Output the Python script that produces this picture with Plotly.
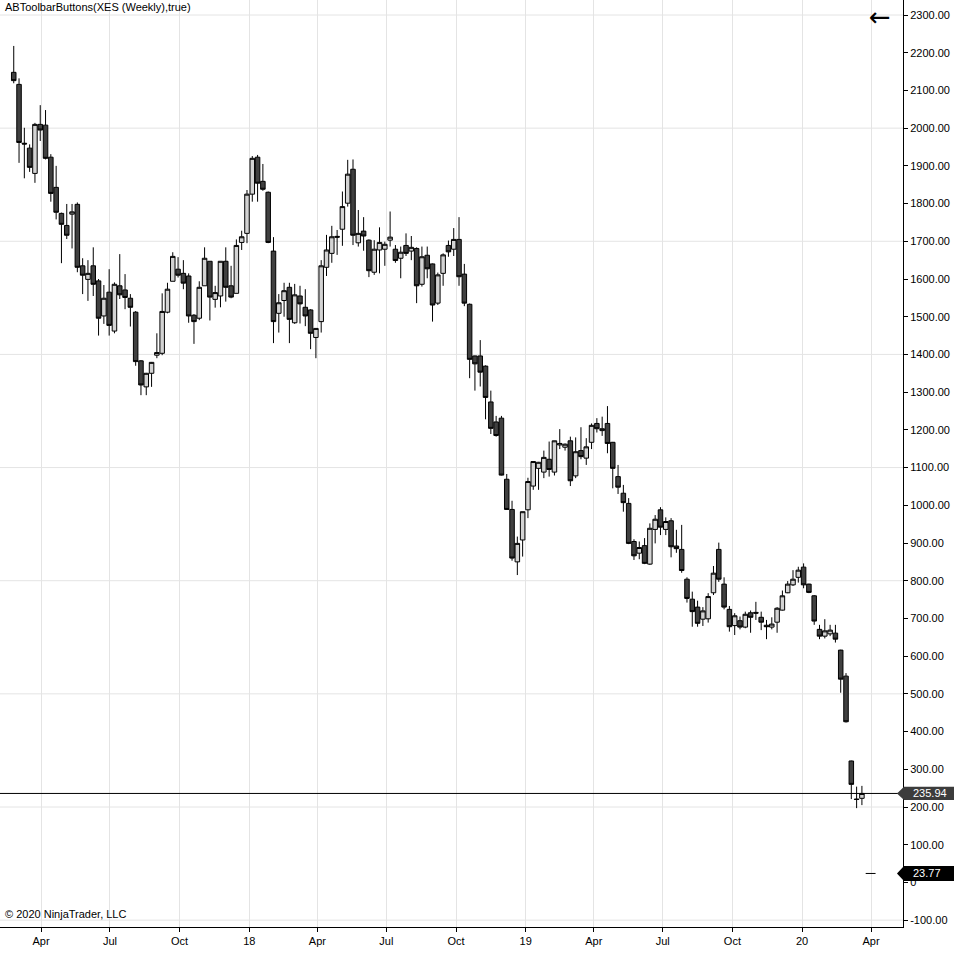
import pandas as pd
import plotly.graph_objects as go

# ---------------- data (weekly XES candles) ----------------
first_week = "2017-02-24"
n_weeks = 161
dates = pd.date_range(first_week, periods=n_weeks, freq="7D")

opens = [2148, 2116, 1960, 1947, 1880, 2010, 2008, 1923, 1843, 1774,
         1742, 1772, 1798, 1635, 1599, 1635, 1595, 1502, 1565, 1462,
         1582, 1571, 1549, 1512, 1383, 1314, 1350, 1398, 1403, 1512,
         1594, 1626, 1615, 1608, 1504, 1496, 1582, 1647, 1546, 1555,
         1647, 1582, 1562, 1697, 1721, 1825, 1923, 1859, 1830, 1674,
         1509, 1543, 1578, 1484, 1555, 1525, 1518, 1445, 1487, 1631,
         1668, 1713, 1732, 1801, 1891, 1696, 1727, 1703, 1618, 1677,
         1679, 1703, 1679, 1655, 1689, 1674, 1681, 1586, 1663, 1640,
         1536, 1615, 1689, 1679, 1705, 1613, 1533, 1396, 1396, 1369,
         1274, 1221, 1231, 1069, 989, 850, 908, 988, 1051, 1098,
         1088, 1122, 1088, 1160, 1154, 1171, 1078, 1145, 1125, 1167,
         1217, 1198, 1217, 1167, 1076, 1032, 1005, 904, 873, 893,
         844, 936, 988, 936, 959, 892, 883, 804, 751, 730,
         698, 699, 768, 883, 791, 724, 681, 694, 677, 715,
         716, 703, 682, 677, 690, 722, 768, 789, 809, 836,
         791, 760, 671, 653, 659, 661, 616, 547, 322, 221,
         223]

highs = [2218, 2132, 2001, 1957, 2014, 2061, 2048, 1931, 1900, 1776,
         1799, 1799, 1803, 1655, 1650, 1684, 1600, 1584, 1626, 1591,
         1666, 1613, 1560, 1515, 1385, 1351, 1380, 1456, 1562, 1590,
         1671, 1658, 1650, 1615, 1507, 1594, 1684, 1647, 1582, 1647,
         1684, 1635, 1705, 1728, 1836, 1926, 1929, 1905, 1832, 1711,
         1560, 1590, 1590, 1587, 1582, 1573, 1520, 1470, 1650, 1717,
         1741, 1730, 1832, 1916, 1917, 1783, 1764, 1705, 1703, 1737,
         1699, 1779, 1690, 1686, 1721, 1714, 1684, 1686, 1686, 1641,
         1617, 1668, 1702, 1735, 1764, 1640, 1535, 1397, 1438, 1371,
         1304, 1237, 1237, 1083, 1012, 917, 983, 1073, 1116, 1115,
         1145, 1169, 1171, 1202, 1164, 1182, 1180, 1207, 1178, 1217,
         1231, 1235, 1263, 1168, 1107, 1054, 1019, 910, 904, 913,
         952, 974, 995, 968, 966, 935, 948, 809, 771, 747,
         730, 767, 839, 901, 809, 733, 714, 705, 718, 721,
         744, 718, 696, 703, 730, 774, 799, 828, 837, 846,
         792, 762, 683, 698, 683, 683, 617, 555, 323, 254,
         256]

lows = [2119, 1908, 1867, 1884, 1855, 1966, 1917, 1805, 1758, 1642,
        1706, 1681, 1618, 1560, 1542, 1555, 1450, 1481, 1450, 1456,
        1547, 1520, 1474, 1370, 1292, 1292, 1314, 1390, 1398, 1509,
        1594, 1604, 1573, 1484, 1428, 1491, 1582, 1490, 1524, 1525,
        1540, 1549, 1562, 1677, 1695, 1805, 1805, 1834, 1695, 1430,
        1458, 1500, 1430, 1481, 1482, 1475, 1414, 1390, 1458, 1608,
        1643, 1664, 1688, 1792, 1690, 1686, 1675, 1605, 1611, 1615,
        1635, 1686, 1643, 1602, 1661, 1650, 1536, 1580, 1602, 1487,
        1531, 1582, 1659, 1661, 1582, 1528, 1337, 1304, 1315, 1228,
        1189, 1182, 1079, 988, 853, 815, 864, 966, 1041, 1041,
        1072, 1076, 1079, 1149, 1145, 1051, 1072, 1122, 1107, 1149,
        1193, 1184, 1138, 1045, 1030, 983, 897, 855, 857, 844,
        842, 899, 921, 921, 862, 874, 821, 742, 678, 678,
        680, 689, 762, 797, 724, 665, 656, 671, 674, 662,
        696, 669, 645, 671, 662, 721, 767, 786, 795, 780,
        767, 683, 645, 647, 653, 636, 503, 424, 221, 197,
        205]

closes = [2126, 1962, 1958, 1896, 2010, 1995, 1920, 1827, 1777, 1745,
          1716, 1778, 1631, 1610, 1615, 1586, 1496, 1549, 1477, 1586,
          1558, 1551, 1525, 1381, 1319, 1350, 1379, 1405, 1514, 1573,
          1660, 1610, 1589, 1502, 1487, 1578, 1655, 1552, 1564, 1647,
          1578, 1552, 1689, 1712, 1825, 1920, 1854, 1838, 1697, 1487,
          1537, 1569, 1493, 1558, 1534, 1502, 1456, 1469, 1635, 1677,
          1712, 1711, 1792, 1878, 1716, 1721, 1714, 1622, 1679, 1697,
          1692, 1711, 1649, 1671, 1668, 1684, 1582, 1659, 1627, 1531,
          1611, 1664, 1672, 1705, 1606, 1536, 1387, 1375, 1353, 1286,
          1204, 1185, 1080, 989, 860, 899, 983, 1063, 1116, 1114,
          1127, 1095, 1171, 1164, 1162, 1065, 1142, 1129, 1155, 1212,
          1203, 1203, 1164, 1098, 1048, 1007, 899, 866, 888, 846,
          939, 963, 942, 957, 890, 885, 827, 753, 718, 687,
          720, 758, 820, 804, 730, 678, 707, 677, 711, 703,
          714, 690, 678, 685, 727, 760, 791, 804, 828, 789,
          769, 693, 653, 667, 669, 645, 539, 426, 260, 220,
          235.94]

last_price = 235.94
indicator_value = 23.77
indicator_dates = ["2020-03-25", "2020-04-07"]

x_tick_dates = ["2017-04-01", "2017-07-01", "2017-10-01", "2018-01-01",
                "2018-04-01", "2018-07-01", "2018-10-01", "2019-01-01",
                "2019-04-01", "2019-07-01", "2019-10-01", "2020-01-01",
                "2020-04-01"]
x_tick_text = ["Apr", "Jul", "Oct", "18", "Apr", "Jul", "Oct", "19",
               "Apr", "Jul", "Oct", "20", "Apr"]

y_tick_vals = [2300, 2200, 2100, 2000, 1900, 1800, 1700, 1600, 1500, 1400,
               1300, 1200, 1100, 1000, 900, 800, 700, 600, 500, 400, 300,
               200, 100, 0, -100]
y_tick_text = [("0" if v == 0 else f"{v:.2f}") for v in y_tick_vals]
y_grid_vals = [2300, 2000, 1700, 1400, 1100, 800, 500, 200, -100]

# ---------------- figure ----------------
FONT = "Liberation Sans, Arial, sans-serif"
GRID = "#e4e4e4"
PLOT_W = 903.0  # plot area width in px (used for paper coords of outside items)

fig = go.Figure()

fig.add_trace(go.Candlestick(
    x=dates, open=opens, high=highs, low=lows, close=closes,
    increasing=dict(line=dict(color="#000000", width=1), fillcolor="#d3d3d3"),
    decreasing=dict(line=dict(color="#000000", width=1), fillcolor="#404040"),
    whiskerwidth=0, hoverinfo="skip", showlegend=False,
))

fig.add_trace(go.Scatter(
    x=indicator_dates, y=[indicator_value, indicator_value], mode="lines",
    line=dict(color="#000000", width=1), hoverinfo="skip", showlegend=False,
))

shapes = []
for v in y_grid_vals:
    shapes.append(dict(type="line", xref="paper", yref="y", x0=0, x1=1, y0=v, y1=v,
                       line=dict(color=GRID, width=1), layer="below"))
# last price line
shapes.append(dict(type="line", xref="paper", yref="y", x0=0, x1=1,
                   y0=last_price, y1=last_price, line=dict(color="#000000", width=1),
                   layer="above"))


def tag(value, color, half):
    tip = 897 / PLOT_W
    body = 904 / PLOT_W
    right = 960 / PLOT_W
    return dict(type="path", xref="paper", yref="y", layer="above",
                path=(f"M {tip},{value} L {body},{value + half} L {right},{value + half} "
                      f"L {right},{value - half} L {body},{value - half} Z"),
                fillcolor=color, line=dict(color=color, width=0))


shapes.append(tag(last_price, "#3c3c3c", 17.5))
shapes.append(tag(indicator_value, "#000000", 20))

annotations = [
    dict(text="ABToolbarButtons(XES (Weekly),true)", xref="paper", yref="paper",
         x=3 / PLOT_W, y=1 - 7 / 927, xanchor="left", yanchor="middle", showarrow=False,
         font=dict(family=FONT, size=11, color="#000000")),
    dict(text="© 2020 NinjaTrader, LLC", xref="paper", yref="paper",
         x=3 / PLOT_W, y=1 - 914 / 927, xanchor="left", yanchor="middle", showarrow=False,
         font=dict(family=FONT, size=11, color="#000000")),
    dict(text="←", xref="paper", yref="paper", x=880 / PLOT_W, y=1 - 17 / 927,
         xanchor="center", yanchor="middle", showarrow=False,
         font=dict(family="DejaVu Sans", size=26, color="#000000")),
    dict(text=f"{last_price:.2f}", xref="paper", yref="y", x=911 / PLOT_W, y=last_price,
         xanchor="left", yanchor="middle", showarrow=False,
         font=dict(family=FONT, size=11, color="#ffffff")),
    dict(text=f"{indicator_value:.2f}", xref="paper", yref="y", x=911 / PLOT_W,
         y=indicator_value, xanchor="left", yanchor="middle", showarrow=False,
         font=dict(family=FONT, size=11, color="#ffffff")),
]

fig.update_layout(
    width=954, height=957,
    margin=dict(l=0, r=51, t=0, b=30),
    paper_bgcolor="#ffffff", plot_bgcolor="#ffffff",
    font=dict(family=FONT, size=11, color="#000000"),
    showlegend=False,
    boxgap=0.15, boxgroupgap=0,
    shapes=shapes,
    annotations=annotations,
    xaxis=dict(
        type="date",
        range=["2017-02-05 20:40", "2020-05-13 06:00"],
        tickmode="array", tickvals=x_tick_dates, ticktext=x_tick_text,
        ticks="outside", ticklen=4, tickcolor="#000000",
        showline=True, linecolor="#000000", linewidth=1,
        showgrid=True, gridcolor=GRID, gridwidth=1,
        zeroline=False, rangeslider=dict(visible=False),
        tickfont=dict(family=FONT, size=11, color="#000000"),
        fixedrange=True, automargin=False,
    ),
    yaxis=dict(
        side="right",
        range=[-118.2, 2339.8],
        tickmode="array", tickvals=y_tick_vals, ticktext=y_tick_text,
        ticks="outside", ticklen=4, tickcolor="#000000",
        showline=True, linecolor="#000000", linewidth=1,
        showgrid=False, zeroline=False,
        tickfont=dict(family=FONT, size=11, color="#000000"),
        fixedrange=True, automargin=False,
    ),
)

fig.write_html(
    "out.html",
    config={"displayModeBar": False},
    post_script="document.body.style.margin='0px';document.body.style.padding='0px';"
                "document.body.style.overflow='hidden';",
)
